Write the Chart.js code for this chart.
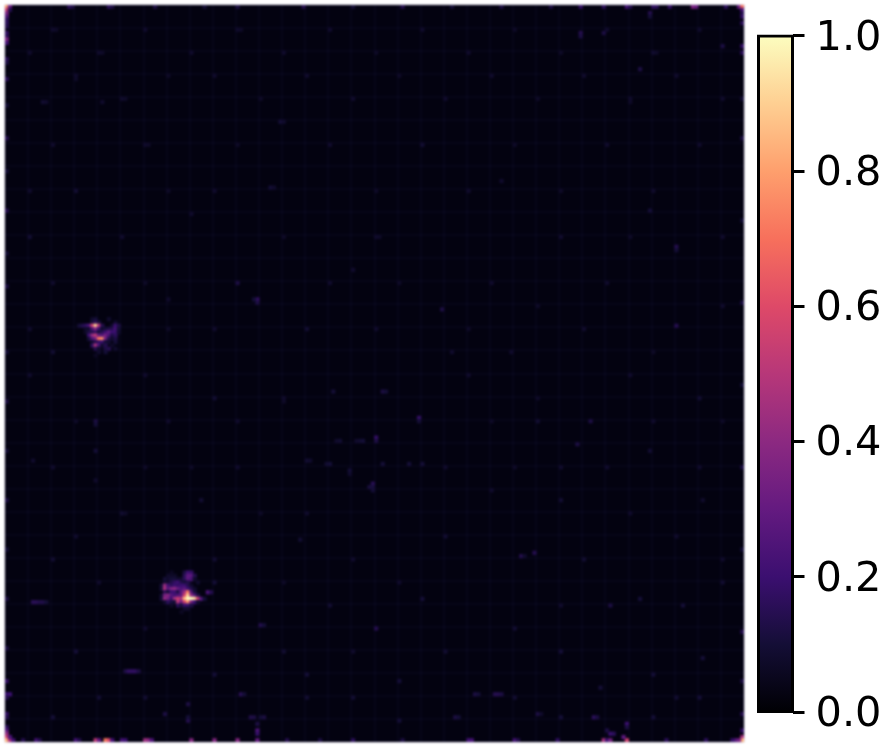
<!DOCTYPE html>
<html>
<head>
<meta charset="utf-8">
<title>Heatmap</title>
<script src="https://cdn.jsdelivr.net/npm/chart.js@4"></script>
<style>
  body { margin: 0; background: #fff; }
  canvas { position: absolute; top: 0; }
  #heatmap { left: 0; filter: blur(1px); }
  #colorbar { left: 750px; }
</style>
</head>
<body>
<canvas id="heatmap" width="750" height="748"></canvas>
<canvas id="colorbar" width="137" height="748"></canvas>
<script>
// values, every cell is [column, row, value] on a 224 x 224 grid
const spotUpper = [
  [26,95,.08],[27,95,.1],[31,95,.08],
  [26,96,.1],[27,96,.16],[28,96,.1],[33,96,.08],
  [22,97,.1],[23,97,.13],[24,97,.17],[25,97,.24],[26,97,.55],[27,97,.9],[28,97,.5],[29,97,.14],[32,97,.08],[33,97,.2],[34,97,.12],
  [24,98,.08],[25,98,.08],[26,98,.24],[27,98,.4],[28,98,.2],[29,98,.08],[30,98,.1],[31,98,.12],[32,98,.14],[33,98,.22],[34,98,.1],
  [24,99,.07],[25,99,.12],[26,99,.14],[27,99,.18],[28,99,.1],[29,99,.14],[30,99,.2],[31,99,.28],[32,99,.2],[33,99,.2],[34,99,.08],
  [25,100,.2],[26,100,.42],[27,100,.52],[28,100,.3],[29,100,.26],[30,100,.34],[31,100,.24],[32,100,.12],[33,100,.16],
  [25,101,.1],[26,101,.24],[27,101,.34],[28,101,.7],[29,101,.76],[30,101,.34],[31,101,.14],[32,101,.08],[33,101,.12],
  [26,102,.08],[27,102,.14],[28,102,.18],[29,102,.2],[30,102,.1],[31,102,.08],[33,102,.1],
  [26,103,.16],[27,103,.46],[28,103,.24],[29,103,.08],[30,103,.14],[32,103,.07],
  [27,104,.14],[28,104,.08],[30,104,.12],[31,104,.14],[28,105,.08],[30,105,.1],[33,104,.08],[27,106,.06]
];
const spotLower = [
  [54,172,.12],[55,172,.2],[56,172,.18],[50,172,.06],
  [54,173,.16],[55,173,.28],[56,173,.28],[57,173,.14],[49,173,.08],[50,173,.07],[51,173,.07],
  [48,174,.1],[49,174,.08],[50,174,.1],[51,174,.1],[52,174,.08],[53,174,.08],[54,174,.16],[55,174,.28],[56,174,.24],[57,174,.08],
  [48,175,.09],[49,175,.08],[50,175,.13],[51,175,.17],[52,175,.2],[53,175,.13],[54,175,.1],[55,175,.13],[58,175,.08],
  [47,176,.1],[48,176,.42],[49,176,.22],[50,176,.16],[51,176,.2],[52,176,.18],[53,176,.2],[54,176,.2],[55,176,.14],[56,176,.08],
  [47,177,.1],[48,177,.46],[49,177,.26],[50,177,.36],[51,177,.4],[52,177,.3],[53,177,.24],[54,177,.28],[55,177,.2],[56,177,.14],[57,177,.08],
  [48,178,.15],[49,178,.1],[50,178,.2],[51,178,.2],[52,178,.12],[53,178,.28],[54,178,.44],[55,178,.72],[56,178,.26],[57,178,.1],[61,178,.24],[62,178,.14],
  [47,179,.09],[48,179,.34],[49,179,.38],[50,179,.26],[51,179,.22],[52,179,.24],[53,179,.28],[54,179,.58],[55,179,.9],[56,179,.42],[57,179,.26],[58,179,.12],
  [47,180,.1],[48,180,.4],[49,180,.34],[50,180,.2],[51,180,.44],[52,180,.54],[53,180,.46],[54,180,.86],[55,180,1],[56,180,1],[57,180,.92],[58,180,.55],[59,180,.26],[60,180,.1],
  [48,181,.08],[49,181,.16],[50,181,.12],[51,181,.1],[52,181,.5],[53,181,.32],[54,181,.58],[55,181,.78],[56,181,.38],[57,181,.2],[58,181,.08],
  [50,182,.07],[52,182,.16],[53,182,.1],[54,182,.2],[55,182,.2],[56,182,.12],
  [54,183,.08],[55,183,.08],[53,184,.06]
];
const edgeCells = [
  [0,0,.8],[0,1,.55],[0,2,.36],[0,3,.25],[1,0,.32],[1,1,.14],[0,4,.16],[0,5,.16],[0,6,.14],[0,8,.18],[0,9,.16],[0,10,.36],[0,11,.22],[0,16,.16],[0,17,.12],[0,22,.16],
  [0,30,.1],[0,40,.14],[0,50,.1],[0,62,.14],[0,75,.1],[0,85,.12],[0,105,.1],[0,120,.12],[0,135,.1],[0,150,.12],[0,165,.1],[0,180,.12],[0,195,.12],
  [0,205,.18],[0,209,.2],[0,210,.14],[0,215,.18],[0,216,.14],[0,219,.16],[0,220,.25],
  [0,221,.4],[0,222,.55],[0,223,.85],[1,223,.5],[1,222,.24],[2,223,.22],
  [19,0,.16],[20,0,.12],[31,0,.16],[32,0,.12],[45,0,.12],[60,0,.1],[70,0,.12],[90,0,.14],[105,0,.1],[120,0,.14],[135,0,.1],[150,0,.12],[165,0,.12],
  [174,0,.18],[181,0,.16],[188,0,.22],[189,0,.14],[196,0,.17],[197,0,.16],[201,0,.18],[208,0,.36],[209,0,.32],[218,0,.16],
  [222,0,.3],[223,0,.7],[223,1,.24],[223,2,.14],[223,3,.18],[223,5,.16],[223,12,.18],[223,14,.16],[223,28,.1],[223,40,.12],[223,65,.1],[223,90,.12],[223,115,.1],[223,140,.12],[223,165,.1],[223,190,.14],
  [223,205,.12],[223,215,.14],[223,220,.18],[223,222,.45],[223,223,.85],[222,223,.36],[221,223,.28],[220,223,.18],
  [5,223,.14],[9,223,.22],[10,223,.14],[21,223,.22],[22,223,.14],[27,223,.52],[28,223,.3],[30,223,.72],[31,223,.6],[32,223,.22],[35,223,.22],[36,223,.2],[42,223,.44],[43,223,.4],[44,223,.24],
  [56,223,.38],[63,223,.38],[70,223,.38],[76,223,.3],[85,223,.14],[95,223,.12],[105,223,.16],[120,223,.12],[140,223,.22],[141,223,.22],
  [154,223,.22],[155,223,.14],[167,223,.17],[181,223,.46],[182,223,.2],[183,223,.34],[188,223,.56],[187,222,.28],[200,223,.16],[212,223,.16]
];
const faintCells = [
  [99,117,.1],[114,117,.12],[115,117,.1],[125,125,.18],[125,126,.1],[112,131,.18],[112,132,.12],[108,132,.1],[107,132,.09],[106,132,.08],[101,132,.09],[100,132,.08],[98,139,.1],[97,139,.09],
  [91,138,.09],[92,138,.08],[111,145,.15],[110,146,.11],[111,146,.11],[104,141,.1],[104,142,.08],[114,139,.1],[122,139,.1],[126,139,.1],
  [149,209,.14],[148,209,.14],[150,209,.12],[142,209,.12],[143,209,.1],[136,216,.12],[137,216,.1],[161,215,.12],[162,215,.08],[178,216,.16],[179,216,.12],
  [188,218,.2],[188,219,.12],[183,221,.2],[184,221,.16],[182,220,.12],
  [36,202,.12],[37,202,.17],[38,202,.17],[39,202,.17],[40,202,.12],[1,209,.2],[76,220,.24],[76,221,.18],[76,218,.12],[71,209,.15],[72,209,.1],
  [48,215,.12],[55,217,.14],[55,216,.1],[55,212,.12],[74,216,.13],[75,216,.12],[78,216,.12],[77,216,.1],
  [174,8,.14],[174,9,.12],[181,8,.12],[192,19,.12],[217,12,.12],[195,2,.14],[195,3,.1],[76,89,.18],[76,90,.12],[75,89,.1],[203,73,.14],[203,74,.1],[132,92,.12],
  [203,97,.14],[70,84,.12],[80,55,.1],[81,55,.08],[83,35,.1],[84,35,.08],[195,62,.1],[8,181,.15],[9,181,.15],[10,181,.13],[11,181,.13],[12,181,.1],
  [77,188,.14],[78,188,.1],[156,167,.14],[157,167,.08],[160,166,.14],[173,133,.12],[183,182,.12],[112,189,.14],[177,126,.12],[153,105,.08],[111,147,.1],
  [192,180,.1],[205,182,.1],[135,105,.08],[27,126,.12],[27,127,.1],[27,135,.1],[27,144,.08],[49,89,.08],[8,138,.08],[105,80,.08]
];
// the short dim dashes that make up the weave of the background
const weaveCells = [
  [14,7,.08],[15,7,.07],[42,7,.08],[70,7,.08],[71,7,.07],[98,7,.08],[126,7,.08],[154,7,.07],[182,7,.08],[210,7,.08],
  [7,14,.08],[28,14,.08],[29,14,.07],[56,14,.08],[84,14,.08],[112,14,.07],[140,14,.08],[168,14,.07],[196,14,.09],[197,14,.07],
  [21,21,.08],[21,22,.07],[49,21,.07],[63,21,.08],[91,21,.08],[119,21,.07],[147,21,.08],[175,21,.08],[203,21,.08],
  [35,28,.08],[36,28,.07],[77,28,.07],[105,28,.08],[133,28,.08],[161,28,.07],[189,28,.08],[189,29,.07],[217,28,.08],
  [11,29,.09],[12,29,.08],[29,29,.08],[14,42,.08],[42,42,.08],[43,42,.07],[70,42,.07],[98,42,.08],[126,42,.09],[154,42,.07],[182,42,.08],[210,42,.08],
  [7,56,.08],[21,56,.09],[49,56,.07],[63,56,.08],[112,56,.07],[140,56,.08],[150,53,.08],[168,56,.07],[196,56,.08],
  [35,70,.08],[7,70,.09],[56,63,.08],[84,70,.07],[112,70,.08],[113,70,.07],[168,70,.08],[189,70,.07],[217,70,.08],
  [14,84,.08],[42,84,.07],[98,84,.08],[119,84,.07],[147,84,.08],[182,84,.08],[217,91,.08],[161,91,.07],
  [7,98,.08],[14,105,.09],[49,98,.07],[63,98,.08],[91,98,.09],[112,98,.08],[140,98,.07],[175,98,.08],[189,112,.08],
  [7,112,.08],[42,112,.08],[63,119,.09],[84,119,.08],[84,120,.07],[140,112,.08],[161,119,.07],[210,119,.09],[196,105,.07],
  [21,126,.07],[49,126,.08],[70,126,.08],[147,126,.07],[161,126,.09],[196,126,.08],[217,126,.07],
  [14,140,.08],[42,140,.07],[56,140,.07],[70,140,.08],[133,140,.08],[154,140,.07],[168,140,.08],[182,140,.08],[195,135,.09],[210,140,.08],
  [35,154,.09],[36,154,.07],[59,150,.09],[77,154,.07],[91,154,.08],[147,147,.08],[168,150,.09],[211,150,.08],[189,154,.08],
  [14,168,.09],[21,161,.08],[63,168,.09],[89,162,.09],[105,168,.08],[133,161,.09],[175,168,.09],[203,161,.08],[217,168,.08],
  [28,175,.08],[63,175,.1],[84,175,.07],[98,182,.09],[119,175,.08],[126,180,.1],[154,189,.09],[168,182,.08],[217,175,.09],
  [21,196,.1],[42,189,.08],[63,203,.1],[84,196,.09],[91,203,.1],[105,196,.08],[119,205,.1],[133,196,.09],[168,196,.1],[180,207,.1],[196,203,.1],[211,198,.1],[210,210,.1],
  [14,216,.1],[28,210,.09],[42,210,.09],[91,210,.09],[105,210,.09],[119,217,.1],[154,210,.09],[168,216,.1],[196,216,.1],[203,210,.09]
];
const tickLabels = ['0.0', '0.2', '0.4', '0.6', '0.8', '1.0'];
const colorbarRange = [[0, 1]];
const magmaStops = ['#000004', '#140e36', '#3b0f70', '#641a80', '#8c2981', '#b73779', '#de4968', '#f7705c', '#fe9f6d', '#fecf92', '#fcfdbf'];

function hexToRgb(hex) {
  return [1, 3, 5].map(i => parseInt(hex.slice(i, i + 2), 16));
}

function magma(v) {
  const pos = Math.min(v, 1) * (magmaStops.length - 1);
  const i = Math.min(Math.floor(pos), magmaStops.length - 2);
  const a = hexToRgb(magmaStops[i]);
  const b = hexToRgb(magmaStops[i + 1]);
  const c = a.map((n, k) => Math.round(n + (b[k] - n) * (pos - i)));
  return `rgb(${c[0]},${c[1]},${c[2]})`;
}

// paints the dark floor of the image, under the grid and the cells
const imageFloor = {
  id: 'imageFloor',
  beforeDraw(chart) {
    const { ctx, chartArea: a } = chart;
    ctx.save();
    ctx.fillStyle = '#030210';
    ctx.fillRect(a.left, a.top, a.right - a.left, a.bottom - a.top);
    ctx.restore();
  }
};

const cells = [...weaveCells, ...faintCells, ...edgeCells, ...spotUpper, ...spotLower].map(c => ({ x: c[0], y: c[1], v: c[2] }));
const gridLines = { color: 'rgba(40,30,90,0.13)', lineWidth: 2, drawTicks: false };

new Chart(document.getElementById('heatmap'), {
  type: 'scatter',
  data: {
    datasets: [{
      data: cells,
      pointStyle: 'rect',
      pointRadius: 3,
      pointBorderWidth: 0,
      pointBackgroundColor: ctx => magma(ctx.raw.v)
    }]
  },
  options: {
    responsive: false,
    animation: false,
    events: [],
    layout: { padding: { left: 5, right: 6, top: 5, bottom: 6 } },
    plugins: { legend: { display: false }, tooltip: { enabled: false } },
    scales: {
      x: { min: -0.5, max: 223.5, border: { display: false }, grid: gridLines, ticks: { display: false, stepSize: 7 } },
      y: { min: -0.5, max: 223.5, reverse: true, border: { display: false }, grid: gridLines, ticks: { display: false, stepSize: 7 } }
    }
  },
  plugins: [imageFloor]
});

new Chart(document.getElementById('colorbar'), {
  type: 'bar',
  data: {
    labels: [''],
    datasets: [{
      data: colorbarRange,
      clip: false,
      barPercentage: 1,
      categoryPercentage: 1,
      borderColor: '#000',
      borderWidth: 3,
      borderSkipped: false,
      inflateAmount: 1.5,
      backgroundColor(ctx) {
        const { chartArea: a, ctx: c } = ctx.chart;
        if (!a) return '#000';
        const g = c.createLinearGradient(0, a.bottom, 0, a.top);
        magmaStops.forEach((s, i) => g.addColorStop(i / (magmaStops.length - 1), s));
        return g;
      }
    }]
  },
  options: {
    responsive: false,
    animation: false,
    events: [],
    layout: { padding: { left: 8.5, right: 0, top: 34, bottom: 35 } },
    plugins: { legend: { display: false }, tooltip: { enabled: false } },
    scales: {
      x: { display: false },
      y: {
        position: 'right',
        min: 0,
        max: 1,
        afterFit(scale) { scale.width = 94.5; },
        // labels sit a little under their ticks in the reference
        afterUpdate(scale) {
          const drawLabels = scale.drawLabels;
          scale.drawLabels = function (area) {
            scale.ctx.save();
            scale.ctx.translate(0, 3);
            drawLabels.call(scale, area);
            scale.ctx.restore();
          };
        },
        border: { display: false },
        grid: { drawOnChartArea: false, tickLength: 12, tickWidth: 3, tickColor: '#000' },
        ticks: {
          stepSize: 0.2,
          padding: 11,
          color: '#000',
          font: { family: 'DejaVu Sans', size: 41.5 },
          callback: (value, i) => tickLabels[i]
        }
      }
    }
  }
});
</script>
</body>
</html>
